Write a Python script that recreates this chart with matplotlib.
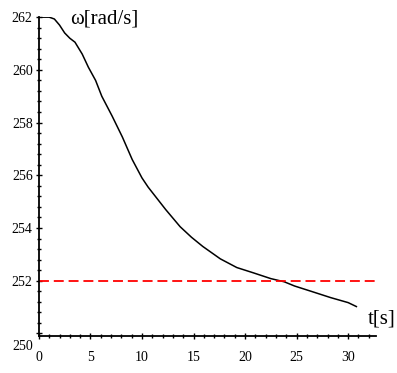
import matplotlib.pyplot as plt
from matplotlib.ticker import MultipleLocator
import matplotlib.transforms as mtransforms

# speed vs time
t = [0, 1, 1.5, 2, 2.5, 3.0, 3.5, 4.2, 4.8, 5.5, 6.1, 7.1, 8.1, 9.05, 10, 10.6, 11.3,
     12.3, 13.7, 14.8, 15.9, 17.6, 19.2, 20.8, 22.5, 23.8, 24.8, 26.4, 28.3, 30, 30.8]
w = [262, 262, 261.93, 261.7, 261.4, 261.2, 261.05, 260.6, 260.1, 259.6, 259.0, 258.25,
     257.45, 256.6, 255.9, 255.55, 255.2, 254.7, 254.05, 253.65, 253.3, 252.83, 252.5,
     252.3, 252.08, 251.96, 251.8, 251.6, 251.36, 251.17, 251.02]
w_ref = 252
xticks = [0, 5, 10, 15, 20, 25, 30]
yticks = [250, 252, 254, 256, 258, 260, 262]

plt.rcParams['font.family'] = ['Liberation Serif', 'DejaVu Serif']

fig = plt.figure(figsize=(3.97, 3.73), dpi=100)
ax = fig.add_axes([0.098, 0.099, 0.849, 0.855])

ax.plot(t, w, color='black', linewidth=1.1)
ax.axhline(w_ref, color='red', linewidth=1.3, dashes=(5.5, 2.7))

ax.set_xlim(0, 32.7)
ax.set_ylim(249.9, 262)
ax.set_xticks(xticks)
ax.set_yticks(yticks)
ax.xaxis.set_minor_locator(MultipleLocator(1))
ax.yaxis.set_minor_locator(MultipleLocator(0.4))

for s in ['top', 'right']:
    ax.spines[s].set_visible(False)
for s in ['left', 'bottom']:
    ax.spines[s].set_linewidth(1.3)

ax.tick_params(which='major', direction='inout', length=5, width=1.0, labelsize=10)
ax.tick_params(which='minor', direction='inout', length=3, width=1.0)
ax.tick_params(axis='x', which='major', pad=8)
ax.tick_params(axis='y', which='major', pad=2)

# lowest y label sits a bit below its tick
lab = ax.get_yticklabels()[0]
lab.set_transform(lab.get_transform() + mtransforms.ScaledTranslation(0, -0.12, fig.dpi_scale_trans))

ax.text(0.092, 0.995, 'ω[rad/s]', transform=ax.transAxes, fontsize=15, va='center', ha='left')
ax.text(0.976, 0.055, 't[s]', transform=ax.transAxes, fontsize=15, va='center', ha='left')

fig.savefig('out.png', dpi=100)
